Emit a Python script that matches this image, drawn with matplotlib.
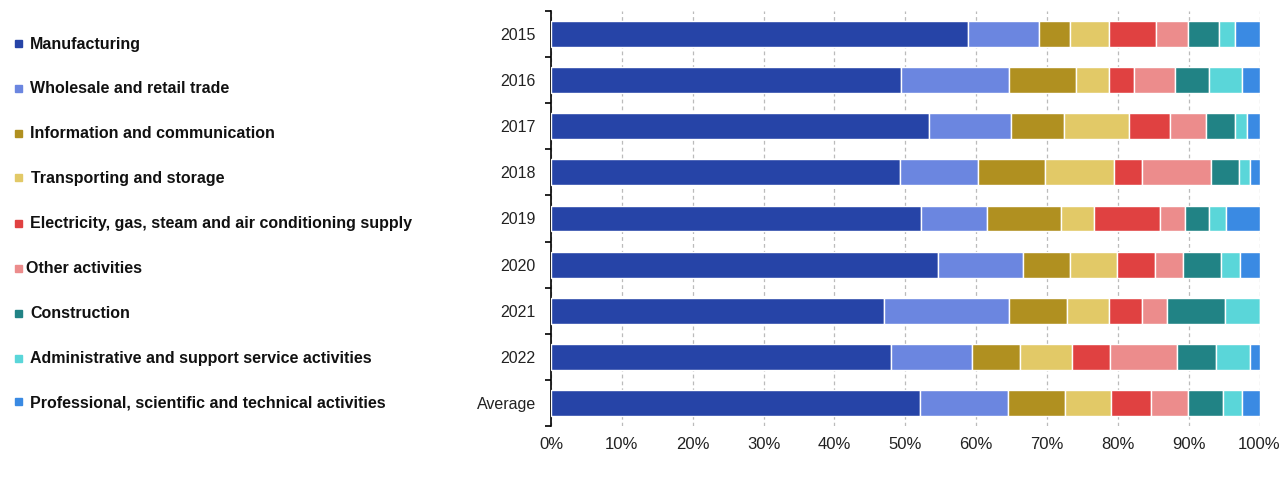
import matplotlib
matplotlib.use('Agg')
import matplotlib.pyplot as plt
from matplotlib.patches import Rectangle
import numpy as np

# Row labels (top to bottom) and sector shares in %
years = ['2015', '2016', '2017', '2018', '2019', '2020', '2021', '2022', 'Average']
sectors = ['Manufacturing', 'Wholesale and retail trade', 'Information and communication',
           'Transporting and storage', 'Electricity, gas, steam and air conditioning supply',
           'Other activities', 'Construction', 'Administrative and support service activities',
           'Professional, scientific and technical activities']

manufacturing = [58.9, 49.4, 53.4, 49.3, 52.2, 54.6, 47.0, 48.0, 52.1]
wholesale = [10.0, 15.3, 11.5, 11.0, 9.4, 12.0, 17.7, 11.4, 12.4]
information = [4.4, 9.4, 7.5, 9.4, 10.4, 6.7, 8.2, 6.8, 8.1]
transport = [5.5, 4.7, 9.2, 9.7, 4.7, 6.6, 5.9, 7.4, 6.4]
electricity = [6.6, 3.5, 5.8, 4.0, 9.3, 5.4, 4.6, 5.3, 5.7]
other = [4.5, 5.8, 5.0, 9.7, 3.5, 3.9, 3.6, 9.5, 5.2]
construction = [4.4, 4.8, 4.2, 4.0, 3.4, 5.4, 8.2, 5.5, 5.0]
administrative = [2.3, 4.7, 1.7, 1.5, 2.4, 2.7, 4.8, 4.7, 2.7]
professional = [3.4, 2.4, 1.7, 1.4, 4.7, 2.7, 0.0, 1.4, 2.4]

series = [manufacturing, wholesale, information, transport, electricity,
          other, construction, administrative, professional]
colors = ['#2644A7', '#6B86E0', '#B09020', '#E2C967', '#E04141',
          '#EC8C8C', '#218385', '#5AD6D9', '#3A8AE3']

fig = plt.figure(figsize=(12.86, 4.94), dpi=100)
ax = fig.add_axes([551 / 1286, 1 - 426 / 494, 708.5 / 1286, 415 / 494])

y = np.arange(len(years))
left = np.zeros(len(years))
for vals, col in zip(series, colors):
    vals = np.array(vals)
    ax.barh(y, vals, left=left, height=0.56, color=col, edgecolor='white',
            linewidth=1, zorder=3)
    left += vals

ax.set_xlim(0, 100)
ax.set_ylim(len(years) - 0.5, -0.5)

# grid and spines
ax.set_xticks(np.arange(0, 101, 10))
ax.set_xticklabels([f'{v}%' for v in range(0, 101, 10)],
                   family=['Liberation Sans Narrow', 'Liberation Sans'], fontsize=12,
                   color='#222222')
ax.grid(axis='x', color='#BBBBBB', linestyle=(0, (3, 2.5)), linewidth=0.9, zorder=0)
for s in ['top', 'right', 'bottom']:
    ax.spines[s].set_visible(False)
ax.spines['left'].set_color('black')
ax.spines['left'].set_linewidth(1.2)
ax.tick_params(axis='x', length=0, pad=8)

ax.set_yticks(y)
ax.set_yticklabels(years, family='Liberation Sans', fontsize=11.5, color='#222222')
ax.set_yticks(np.arange(-0.5, len(years)), minor=True)
ax.tick_params(axis='y', which='major', length=0, pad=11)
ax.tick_params(axis='y', which='minor', length=4, width=1.2, color='black')

# legend drawn by hand on the left side
leg_y = [44, 88, 133, 178, 223, 268, 313, 358, 402]
text_x = [30, 30, 30, 31, 30, 26, 30, 30, 30]
for name, col, py, tx in zip(sectors, colors, leg_y, text_x):
    fig.patches.append(Rectangle((15 / 1286, 1 - (py + 3.5) / 494), 7 / 1286, 7 / 494,
                                 transform=fig.transFigure, color=col))
    fig.text(tx / 1286, 1 - (py + 0.5) / 494, name, fontsize=11.5, fontweight='bold',
             family='Liberation Sans', color='#111111', va='center', ha='left')

fig.savefig('out.png', dpi=100)
